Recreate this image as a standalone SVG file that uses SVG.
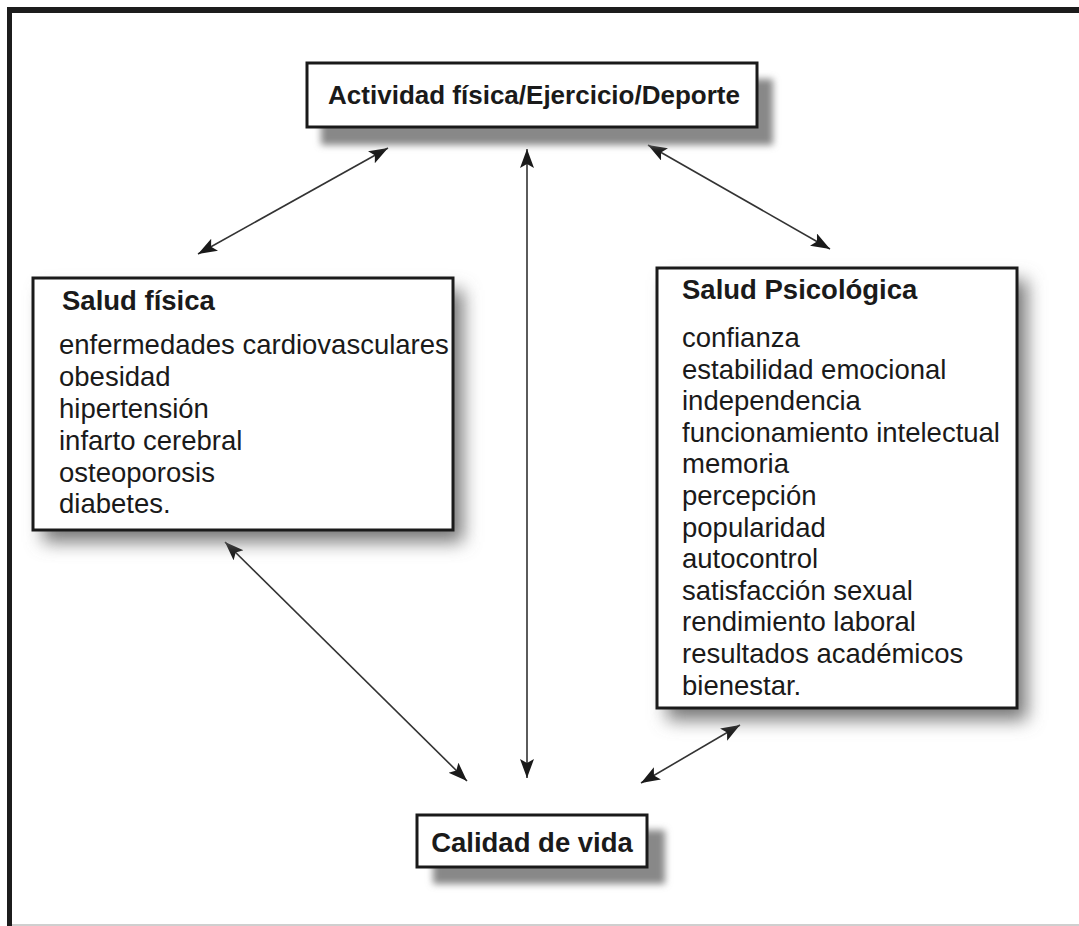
<svg xmlns="http://www.w3.org/2000/svg" width="1079" height="926" viewBox="0 0 1079 926">
<defs>
<style>
.box{fill:#fff;stroke:#1a1a1a;stroke-width:3}
.sh1{fill:#888;filter:url(#b1)}
.sh2{fill:#777;filter:url(#b2)}
.t{font-family:"Liberation Sans",Arial,sans-serif;fill:#1a1a1a}
.h{font-weight:bold;font-size:27.5px}
.i{font-size:27.5px}
.con{stroke:#333;stroke-width:1.6;fill:none;marker-start:url(#ah);marker-end:url(#ah)}
</style>
<filter id="b1" x="-20%" y="-50%" width="140%" height="200%"><feGaussianBlur stdDeviation="3.5"/></filter>
<filter id="b2" x="-20%" y="-20%" width="140%" height="140%"><feGaussianBlur stdDeviation="9"/></filter>
<marker id="ah" markerUnits="userSpaceOnUse" markerWidth="20" markerHeight="16" refX="19" refY="7" orient="auto-start-reverse">
<path d="M0,0 L19,7 L0,14 L4,7 Z" fill="#1a1a1a"/>
</marker>
</defs>
<rect x="0" y="0" width="1079" height="926" fill="#fff"/>
<g id="frame">
<rect x="7" y="7" width="1072" height="6" fill="#1c1c1c"/>
<rect x="7" y="7" width="5" height="919" fill="#1c1c1c"/>
<rect x="12" y="924" width="1067" height="2" fill="#cfcfcf"/>
</g>
<g id="connectors">
<line class="con" x1="388" y1="148" x2="198" y2="254"/>
<line class="con" x1="527" y1="149" x2="527" y2="778"/>
<line class="con" x1="648" y1="145" x2="830" y2="249"/>
<line class="con" x1="225" y1="542" x2="467" y2="781"/>
<line class="con" x1="740" y1="725" x2="641" y2="783"/>
</g>
<g id="node-actividad">
<rect class="sh1" x="321" y="79" width="452" height="66"/>
<rect class="box" x="307" y="63" width="450" height="64"/>
<text class="t" x="534" y="104" text-anchor="middle" font-weight="bold" font-size="26">Actividad física/Ejercicio/Deporte</text>
</g>
<g id="node-salud-fisica">
<rect class="sh2" x="43" y="290" width="420" height="252"/>
<rect class="box" x="33" y="278" width="420" height="252"/>
<text class="t h" x="62" y="310">Salud física</text>
<text class="t i" x="59" y="354">enfermedades cardiovasculares</text>
<text class="t i" x="59" y="386">obesidad</text>
<text class="t i" x="59" y="418">hipertensión</text>
<text class="t i" x="59" y="450">infarto cerebral</text>
<text class="t i" x="59" y="482">osteoporosis</text>
<text class="t i" x="59" y="513">diabetes.</text>
</g>
<g id="node-salud-psicologica">
<rect class="sh2" x="667" y="280" width="360" height="440"/>
<rect class="box" x="657" y="268" width="360" height="440"/>
<text class="t h" x="682" y="299">Salud Psicológica</text>
<text class="t i" x="682" y="347">confianza</text>
<text class="t i" x="682" y="378.6">estabilidad emocional</text>
<text class="t i" x="682" y="410.2">independencia</text>
<text class="t i" x="682" y="441.8">funcionamiento intelectual</text>
<text class="t i" x="682" y="473.4">memoria</text>
<text class="t i" x="682" y="505">percepción</text>
<text class="t i" x="682" y="536.6">popularidad</text>
<text class="t i" x="682" y="568.2">autocontrol</text>
<text class="t i" x="682" y="599.8">satisfacción sexual</text>
<text class="t i" x="682" y="631.4">rendimiento laboral</text>
<text class="t i" x="682" y="663">resultados académicos</text>
<text class="t i" x="682" y="694.6">bienestar.</text>
</g>
<g id="node-calidad">
<rect class="sh1" x="433" y="830" width="232" height="54"/>
<rect class="box" x="417" y="815" width="230" height="52"/>
<text class="t h" x="532" y="852" text-anchor="middle">Calidad de vida</text>
</g>
</svg>
